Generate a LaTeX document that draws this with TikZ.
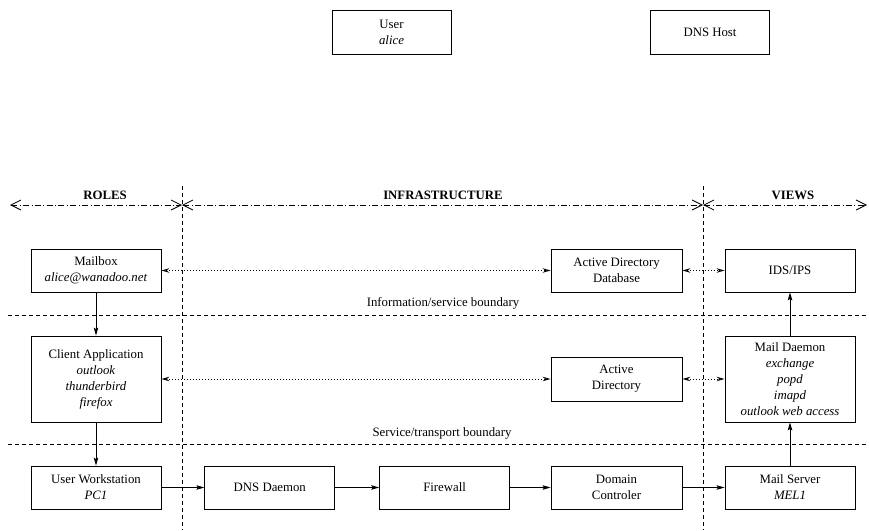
\documentclass[tikz,border=0pt]{standalone}
\usepackage{fontspec}
\setmainfont{Liberation Serif}
\usetikzlibrary{arrows.meta,positioning}

\tikzset{
  box/.style={draw, line width=0.8pt, minimum width=130pt, minimum height=43pt,
    align=center, inner sep=2pt, font=\fontsize{12.8}{16}\selectfont},
  flow/.style={line width=0.9pt, -{Stealth[length=8pt,width=4.5pt,inset=1.5pt]}},
  link/.style={line width=0.8pt, dash pattern=on 0.8pt off 2.2pt,
    {Stealth[open,length=8pt,width=4.5pt]}-{Stealth[open,length=8pt,width=4.5pt]}},
  zone/.style={line width=0.8pt, dash pattern=on 6pt off 2.5pt on 0.8pt off 2.5pt,
    {Straight Barb[length=10pt,width=10pt,line width=0.8pt]}-{Straight Barb[length=10pt,width=10pt,line width=0.8pt]}},
  boundary/.style={line width=0.8pt, dash pattern=on 4pt off 3pt},
  title/.style={font=\fontsize{12.8}{15}\bfseries\selectfont},
  note/.style={font=\fontsize{12.8}{15}\selectfont}
}

\begin{document}
\begin{tikzpicture}[x=1pt, y=-1pt]
      \useasboundingbox (0, 0) rectangle (869, 530);

      % floating boxes on top
      \node[box, minimum width=119pt, minimum height=44pt] (user) at (391.5, 32) {User\\\textit{alice}};
      \node[box, minimum width=119pt, minimum height=44pt] (dnshost) at (710, 32) {DNS Host};

      % columns
      \draw[line width=0.8pt, dash pattern=on 3.5pt off 3.5pt] (182, 186) -- (182, 530);
      \draw[line width=0.8pt, dash pattern=on 3.5pt off 3.5pt] (703, 186) -- (703, 530);

      \draw[zone] (10, 205) -- (182, 205);
      \draw[zone] (182, 205) -- (703, 205);
      \draw[zone] (703, 205) -- (867, 205);

      \node[title] (roles) at (105, 195) {ROLES};
      \node[title] (infra) at (443, 195) {INFRASTRUCTURE};
      \node[title] (views) at (793, 195) {VIEWS};

      % boundaries
      \draw[boundary] (8, 315) -- (869, 315);
      \draw[boundary] (8, 444) -- (869, 444);
      \node[note] (infob) at (443, 303) {Information/service boundary};
      \node[note] (servb) at (442, 433) {Service/transport boundary};

      % roles
      \node[box] (mailbox) at (96, 270.5) {Mailbox\\\textit{alice@wanadoo.net}};
      \node[box, minimum height=86pt] (client) at (96, 379) {Client Application\\\textit{outlook}\\\textit{thunderbird}\\\textit{firefox}};
      \node[box] (ws) at (96, 487.5) {User Workstation\\\textit{PC1}};

      % infrastructure
      \node[box, minimum width=131pt] (addb) at (616.5, 270.5) {Active Directory\\Database};
      \node[box, minimum width=131pt, minimum height=44pt] (ad) at (616.5, 379) {Active\\Directory};
      \node[box] (dnsd) [right=43pt of ws] {DNS Daemon};
      \node[box] (fw) [right=44pt of dnsd] {Firewall};
      \node[box, minimum width=131pt] (dc) at (616.5, 487.5) {Domain\\Controler};

      % views
      \node[box] (ids) at (790, 270.5) {IDS/IPS};
      \node[box, minimum height=86pt] (maild) at (790, 379) {Mail Daemon\\\textit{exchange}\\\textit{popd}\\\textit{imapd}\\\textit{outlook web access}};
      \node[box] (ms) at (790, 487.5) {Mail Server\\\textit{MEL1}};

      \draw[flow] (mailbox) -- (client);
      \draw[flow] (client) -- (ws);
      \draw[flow] (ws) -- (dnsd);
      \draw[flow] (dnsd) -- (fw);
      \draw[flow] (fw) -- (dc);
      \draw[flow] (dc) -- (ms);
      \draw[flow] (ms) -- (maild);
      \draw[flow] (maild) -- (ids);

      \draw[link] (mailbox) -- (addb);
      \draw[link] (addb) -- (ids);
      \draw[link] (client) -- (ad);
      \draw[link] (ad) -- (maild);
\end{tikzpicture}
\end{document}
